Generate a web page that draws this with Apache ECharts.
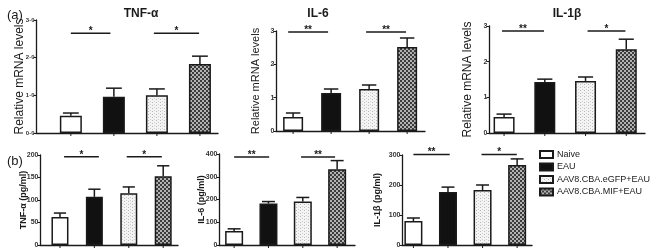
<!DOCTYPE html>
<html>
<head>
<meta charset="utf-8">
<script src="https://cdn.jsdelivr.net/npm/echarts@6/dist/echarts.min.js"></script>
<style>
  html, body { margin: 0; padding: 0; background: #fff; }
  #main { width: 652px; height: 250px; }
</style>
</head>
<body>
<div id="main"></div>
<script>
// groups (legend order)
const groups = ['Naive', 'EAU', 'AAV8.CBA.eGFP+EAU', 'AAV8.CBA.MIF+EAU']

// (a) relative mRNA levels, mean and SEM
const tnfMrnaMean = [0.46, 0.96, 1.0, 1.83]
const tnfMrnaSem = [0.07, 0.23, 0.17, 0.21]
const il6MrnaMean = [0.42, 1.14, 1.26, 2.52]
const il6MrnaSem = [0.12, 0.12, 0.12, 0.27]
const il1bMrnaMean = [0.45, 1.43, 1.46, 2.35]
const il1bMrnaSem = [0.08, 0.08, 0.11, 0.28]

// (b) protein, pg/ml
const tnfProtMean = [62, 107, 115, 153]
const tnfProtSem = [9, 17, 14, 23]
const il6ProtMean = [62, 182, 191, 333]
const il6ProtSem = [9, 9, 18, 38]
const il1bProtMean = [80, 177, 183, 267]
const il1bProtSem = [10, 16, 17, 20]

// significance brackets: [from, to, height, mark]
const tnfMrnaSig = [[1, 1.92, 2.65, '*'], [2.93, 3.98, 2.65, '*']]
const il6MrnaSig = [[0.87, 1.92, 2.97, '**'], [2.92, 3.97, 2.97, '**']]
const il1bMrnaSig = [[0.95, 1.98, 2.86, '**'], [3.05, 3.98, 2.86, '*']]
const tnfProtSig = [[1.12, 2.13, 196, '*'], [2.94, 3.96, 196, '*']]
const il6ProtSig = [[1.0, 2.02, 387, '**'], [2.95, 3.94, 387, '**']]
const il1bProtSig = [[1.0, 2.05, 302, '**'], [2.97, 3.99, 302, '*']]

const panelTitles = ['TNF-α', 'IL-6', 'IL-1β']
const yNames = ['Relative mRNA levels', 'Relative mRNA levels', 'Relative mRNA levels',
  'TNF-α (pg/ml)', 'IL-6 (pg/ml)', 'IL-1β (pg/ml)']
const yMax = [3, 3, 3, 200, 400, 300]
const yStep = [1, 1, 1, 50, 100, 100]

const means = [tnfMrnaMean, il6MrnaMean, il1bMrnaMean, tnfProtMean, il6ProtMean, il1bProtMean]
const sems = [tnfMrnaSem, il6MrnaSem, il1bMrnaSem, tnfProtSem, il6ProtSem, il1bProtSem]
const sigs = [tnfMrnaSig, il6MrnaSig, il1bMrnaSig, tnfProtSig, il6ProtSig, il1bProtSig]

// panel geometry
const layout = [
  { left: 36, top: 20, width: 182, height: 113, xMin: 0.19, xMax: 4.42, barW: 22, nameGap: 10.5, nameSize: 12, labelSize: 6 },
  { left: 276, top: 31, width: 149, height: 100, xMin: 0.55, xMax: 4.47, barW: 20, nameGap: 15, nameSize: 11, labelSize: 7 },
  { left: 489, top: 26, width: 156, height: 107, xMin: 0.63, xMax: 4.46, barW: 21, nameGap: 15, nameSize: 12, labelSize: 7 },
  { left: 40, top: 155, width: 138, height: 90, xMin: 0.42, xMax: 4.43, barW: 17, nameGap: 12, nameSize: 9, labelSize: 7 },
  { left: 219, top: 154, width: 136, height: 91, xMin: 0.56, xMax: 4.52, barW: 18, nameGap: 13, nameSize: 9, labelSize: 7 },
  { left: 402, top: 155, width: 130, height: 90, xMin: 0.67, xMax: 4.43, barW: 18, nameGap: 20, nameSize: 9, labelSize: 7 }
]

const FONT = '"Liberation Sans", Arial, sans-serif'
const INK = '#1a1a1a'

const makePattern = (w, h, bg, blocks) => {
  const c = document.createElement('canvas')
  c.width = w
  c.height = h
  const ctx = c.getContext('2d')
  ctx.fillStyle = bg
  ctx.fillRect(0, 0, w, h)
  blocks.forEach(([x, y, s, col]) => {
    ctx.fillStyle = col
    ctx.fillRect(x, y, s, s)
  })
  return { image: c, repeat: 'repeat' }
}

// light stipple and dark checker fills
const dotted = makePattern(4, 3, '#f4f4f4', [[0, 0, 1, '#b8b8b8'], [2, 2, 1, '#cfcfcf']])
const checker = makePattern(4, 4, '#b2b2b2', [[0, 0, 2, '#3c3c3c'], [2, 2, 2, '#3c3c3c']])
const fills = ['#ffffff', '#111111', dotted, checker]

const chart = echarts.init(document.getElementById('main'), null, { renderer: 'canvas' })

const grid = []
const xAxis = []
const yAxis = []
const series = []

layout.forEach((g, p) => {
  grid.push({ left: g.left, top: g.top, width: g.width, height: g.height })
  xAxis.push({
    type: 'value', gridIndex: p, min: g.xMin, max: g.xMax,
    axisLine: { show: true, onZero: false, lineStyle: { color: INK, width: 1.3 } },
    axisTick: { show: false }, axisLabel: { show: false }, splitLine: { show: false }
  })
  yAxis.push({
    type: 'value', gridIndex: p, min: 0, max: yMax[p], interval: yStep[p],
    name: yNames[p], nameLocation: 'middle', nameGap: g.nameGap, nameMoveOverlap: false,
    nameTextStyle: { fontFamily: FONT, fontSize: g.nameSize, color: INK, fontWeight: p < 3 ? 'normal' : 'bold' },
    axisLine: { show: true, onZero: false, lineStyle: { color: INK, width: 1.3 } },
    axisTick: { show: true, inside: false, length: 2.5, lineStyle: { color: INK, width: 1 } },
    axisLabel: {
      fontFamily: FONT, fontSize: g.labelSize, fontWeight: 'bold', color: '#333', margin: 1.5,
      formatter: (v) => p === 0 ? v.toFixed(1).replace('.', '·') : String(v)
    },
    splitLine: { show: false }
  })

  groups.forEach((name, i) => {
    series.push({
      type: 'bar', name, xAxisIndex: p, yAxisIndex: p,
      barWidth: g.barW, barGap: '-100%',
      itemStyle: { color: fills[i], borderColor: INK, borderWidth: 1.5 },
      emphasis: { disabled: true },
      data: [[i + 1, means[p][i]]]
    })
  })

  // error bars (upper SEM) and x ticks
  const capHalf = g.barW * 0.36
  series.push({
    type: 'custom', xAxisIndex: p, yAxisIndex: p, z: 5, silent: true,
    data: means[p].map((m, i) => [i + 1, m + sems[p][i]]),
    renderItem: (params, api) => {
      const i = params.dataIndex
      const x = i + 1
      const base = api.coord([x, means[p][i]])
      const top = api.coord([x, means[p][i] + sems[p][i]])
      const zero = api.coord([x, 0])
      const st = { stroke: INK, lineWidth: 1.5 }
      return {
        type: 'group', children: [
          { type: 'line', shape: { x1: base[0], y1: base[1], x2: top[0], y2: top[1] }, style: st },
          { type: 'line', shape: { x1: top[0] - capHalf, y1: top[1], x2: top[0] + capHalf, y2: top[1] }, style: st },
          { type: 'line', shape: { x1: zero[0], y1: zero[1], x2: zero[0], y2: zero[1] + 3 }, style: { stroke: INK, lineWidth: 1 } }
        ]
      }
    }
  })

  // significance brackets
  series.push({
    type: 'custom', xAxisIndex: p, yAxisIndex: p, z: 5, silent: true,
    data: sigs[p].map((s) => [s[0], s[2]]),
    renderItem: (params, api) => {
      const s = sigs[p][params.dataIndex]
      const a = api.coord([s[0], s[2]])
      const b = api.coord([s[1], s[2]])
      return {
        type: 'group', children: [
          { type: 'line', shape: { x1: a[0], y1: a[1], x2: b[0], y2: b[1] }, style: { stroke: INK, lineWidth: 1.5 } },
          {
            type: 'text',
            style: {
              text: s[3], x: (a[0] + b[0]) / 2, y: a[1] + 3,
              align: 'center', verticalAlign: 'bottom',
              font: 'bold 10px ' + FONT, fill: INK
            }
          }
        ]
      }
    }
  })
})

const titles = [
  { text: '(a)', left: 2, top: 4, textStyle: { fontFamily: FONT, fontSize: 13, fontWeight: 'normal', color: INK } },
  { text: '(b)', left: 2, top: 150, textStyle: { fontFamily: FONT, fontSize: 13, fontWeight: 'normal', color: INK } }
]
const titleCenters = [136, 313, 562]
panelTitles.forEach((t, i) => {
  titles.push({
    text: t, left: titleCenters[i], top: 3, textAlign: 'center',
    textStyle: { fontFamily: FONT, fontSize: 12, fontWeight: 'bold', color: INK }
  })
})

chart.setOption({
  animation: false,
  backgroundColor: '#ffffff',
  title: titles,
  legend: {
    data: groups, orient: 'vertical', left: 539, top: 150, padding: 0,
    icon: 'rect', itemWidth: 13, itemHeight: 7, itemGap: 3.5,
    textStyle: { fontFamily: FONT, fontSize: 9, color: INK, padding: [0, 0, 0, -1] },
    selectedMode: false
  },
  grid, xAxis, yAxis, series
})

window.addEventListener('resize', () => {
  chart.resize()
})
</script>
</body>
</html>
